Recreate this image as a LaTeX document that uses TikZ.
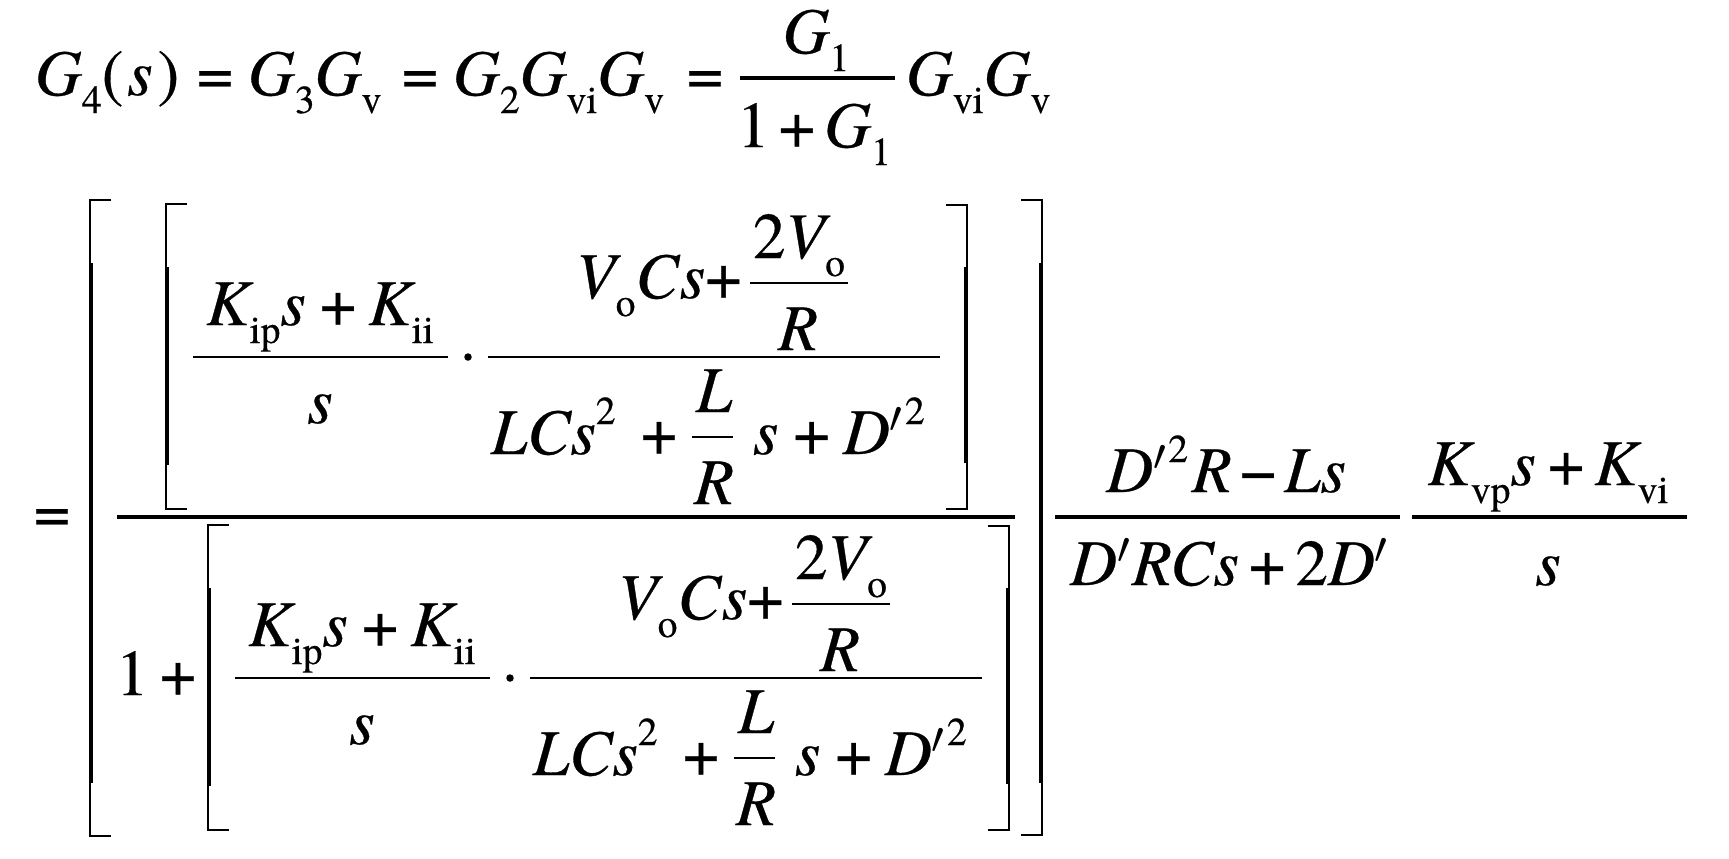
\documentclass[tikz,border=0pt]{standalone}
\usepackage{fontspec}
\setmainfont{texgyretermes}[Extension=.otf, UprightFont=*-regular, ItalicFont=*-italic, BoldFont=*-bold, BoldItalicFont=*-bolditalic, FakeBold=0.5]
\newdimen\pxu \pxu=0.2pt
\newcommand\kp[1]{\kern#1\pxu}
\newcommand\SubT[1]{\raisebox{-18\pxu}{\fontsize{7.9pt}{9pt}\selectfont\upshape #1}}
\newcommand\SupT[1]{\raisebox{30\pxu}{\fontsize{7.9pt}{9pt}\selectfont\upshape #1}}
\newcommand\U[1]{\textup{#1}}
\newcommand\prm{\iffontchar\font"2032 ′\else$^{\prime}$\fi}
\tikzset{
  eq/.style={inner sep=0pt, outer sep=0pt, font=\fontsize{13pt}{15pt}\selectfont\itshape},
  mainbar/.style={line width=0.68pt},
  fbar/.style={line width=0.44pt},
  sbar/.style={line width=0.38pt},
  brthin/.style={line width=0.48pt},
  brthick/.style={line width=0.88pt},
}
% left bracket: x, top, bottom, thick from, thick to
\newcommand\LBrk[5]{%
  \draw[brthin] ({#1+21},#2) -- (#1,#2) -- (#1,#3) -- ({#1+21},#3);
  \draw[brthick] ({#1+1},#4) -- ({#1+1},#5);}
\newcommand\RBrk[5]{%
  \draw[brthin] ({#1-21},#2) -- (#1,#2) -- (#1,#3) -- ({#1-21},#3);
  \draw[brthick] ({#1-1},#4) -- ({#1-1},#5);}
\newcommand\InnerBlock[1]{%
  \node[eq,anchor=base] (#1kn) at (320,325) {K\SubT{ip}s\kp{14}\U{+}\kp{12}K\SubT{ii}};
  \node[eq,anchor=base] (#1kd) at (320,423) {s};
  \draw[fbar] (193,357) -- (448,357);
  \fill (468,357) circle[radius=0.75pt];
  \draw[fbar] (488,357) -- (940,357);
  \node[eq,anchor=base west] (#1vn) at (576,298) {V\SubT{o}C\kp{1}s\U{+}};
  \node[eq,anchor=base west] (#1tv) at (753,258) {\U{2}V\SubT{o}};
  \draw[sbar] (750,283) -- (848,283);
  \node[eq,anchor=base] (#1rr) at (798,350) {R};
  \node[eq,anchor=base west] (#1lc) at (491,454) {LCs\SupT{2}};
  \node[eq,anchor=base] (#1pl) at (659,454) {\U{+}};
  \node[eq,anchor=base] (#1ll) at (714,412) {L};
  \draw[sbar] (692,437) -- (733,437);
  \node[eq,anchor=base] (#1lr) at (714,504) {R};
  \node[eq,anchor=base west] (#1sd) at (753,454) {s\kp{15}\U{+}\kp{13}D\prm\SupT{2}};
  \LBrk{166}{204}{509}{267}{465}
  \RBrk{967}{205}{509}{267}{463}
}
\begin{document}
\begin{tikzpicture}[x=0.2pt,y=-0.2pt]
\fill[white] (0,0) rectangle (1729,858);
\useasboundingbox (0,0) rectangle (1729,858);
% ---- line 1 ----
\node[eq,anchor=base west] (a1) at (35,95) {G\SubT{4}\U{(}\kp{4}s\kp{5}\U{)}};
\node[eq,anchor=base] (e1) at (215,95) {\U{=}};
\node[eq,anchor=base west] (a2) at (248,95) {G\SubT{3}G\SubT{v}};
\node[eq,anchor=base] (e2) at (420,95) {\U{=}};
\node[eq,anchor=base west] (a3) at (453,95) {G\SubT{2}G\SubT{vi}G\SubT{v}};
\node[eq,anchor=base] (e3) at (705,95) {\U{=}};
\node[eq,anchor=base] (fn) at (816,53) {G\SubT{1}};
\draw[mainbar] (740,78) -- (895,78);
\node[eq,anchor=base] (fd) at (814,147) {\U{1}\kp{9}\U{+}\kp{9}G\SubT{1}};
\node[eq,anchor=base west] (a4) at (906,95) {G\SubT{vi}G\SubT{v}};
% ---- line 2 ----
\node[eq,anchor=base] (e4) at (52,533) {\U{=}};
\LBrk{90}{200}{836}{263}{783}
\RBrk{1042}{200}{835}{263}{783}
\draw[mainbar] (117,517) -- (1015,517);
\InnerBlock{up}
\node[eq,anchor=base west] (one) at (116,695) {\U{1}};
\node[eq,anchor=base] (plus) at (178,695) {\U{+}};
\begin{scope}[shift={(42,321)}]
\InnerBlock{lo}
\end{scope}
% right fractions
\node[eq,anchor=base] (rn1) at (1226,492) {D\prm\SupT{2}\kp{4}R\kp{8}\U{−}\kp{8}Ls};
\draw[mainbar] (1055,517) -- (1400,517);
\node[eq,anchor=base] (rd1) at (1230,585) {D\prm RCs\kp{10}\U{+}\kp{10}\U{2}D\prm};
\node[eq,anchor=base] (rn2) at (1548,485) {K\SubT{vp}s\kp{12}\U{+}\kp{10}K\SubT{vi}};
\draw[mainbar] (1412,517) -- (1687,517);
\node[eq,anchor=base] (rd2) at (1548,585) {s};
\end{tikzpicture}
\end{document}
